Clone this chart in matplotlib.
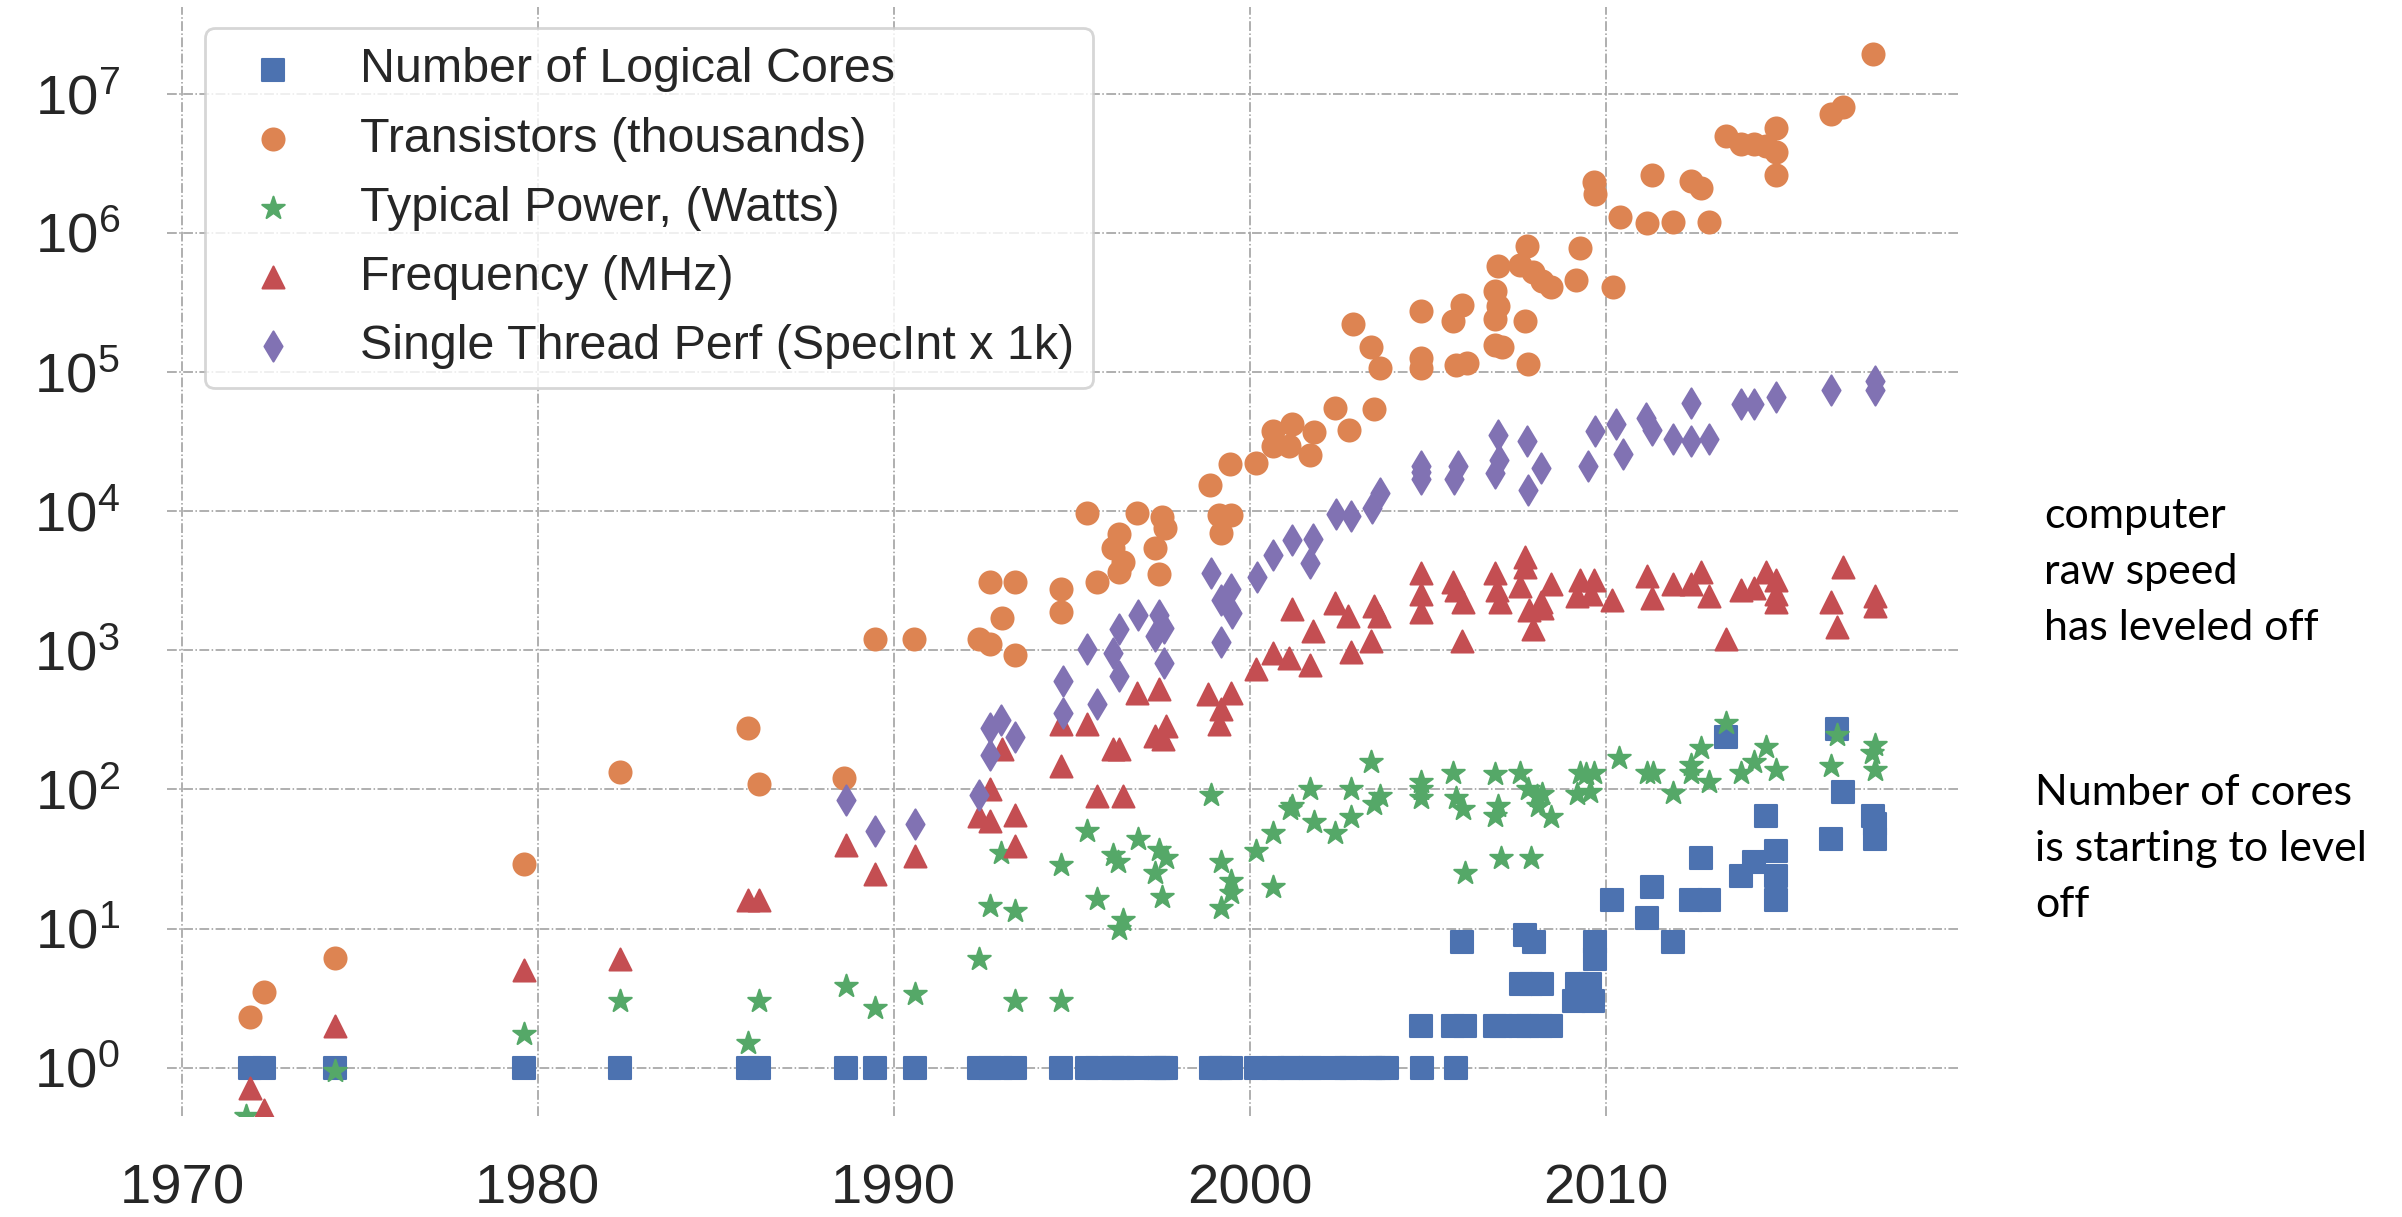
import numpy as np
import matplotlib.pyplot as plt
from matplotlib.ticker import NullLocator

plt.rcParams['font.family'] = ['Liberation Sans', 'DejaVu Sans']

# ---- data: (year, value) ----
cores = [(1971.9, 1), (1972.3, 1), (1974.3, 1), (1979.6, 1), (1982.3, 1), (1985.9, 1),
         (1986.2, 1), (1988.65, 1), (1989.46, 1), (1990.6, 1), (1992.4, 1), (1992.7, 1),
         (1993.0, 1), (1993.4, 1), (1994.7, 1), (1995.43, 1), (1995.7, 1), (1996.15, 1),
         (1996.34, 1), (1996.43, 1), (1996.87, 1), (1997.35, 1), (1997.44, 1), (1997.54, 1),
         (1997.65, 1), (1998.9, 1), (1999.13, 1), (1999.18, 1), (1999.48, 1), (2000.18, 1),
         (2000.66, 1), (2001.1, 1), (2001.19, 1), (2001.68, 1), (2001.77, 1), (2002.4, 1),
         (2002.7, 1), (2002.85, 1), (2003.4, 1), (2003.5, 1), (2003.66, 1), (2003.85, 1),
         (2004.84, 1), (2005.8, 1),
         (2004.8, 2), (2005.72, 2), (2006.05, 2), (2006.88, 2), (2007.06, 2), (2007.6, 2),
         (2007.83, 2), (2008.17, 2), (2008.46, 2),
         (2007.62, 4), (2007.9, 4), (2008.2, 4), (2009.2, 4), (2009.55, 4),
         (2009.1, 3), (2009.65, 3), (2009.7, 6),
         (2005.97, 8), (2007.98, 8), (2009.7, 8), (2011.9, 8), (2007.74, 9),
         (2010.19, 16), (2012.39, 16), (2012.9, 16), (2014.8, 16), (2011.16, 12),
         (2011.31, 20), (2012.69, 32), (2013.8, 24), (2014.8, 24), (2014.17, 30),
         (2013.39, 240), (2014.5, 64), (2017.5, 64), (2014.8, 36), (2016.32, 44),
         (2017.58, 44), (2016.5, 270), (2016.67, 96), (2017.58, 56)]

transistors = [(1971.9, 2.3), (1972.3, 3.5), (1974.3, 6.1), (1979.6, 29), (1982.3, 134),
               (1985.9, 275), (1986.2, 109), (1988.6, 121), (1989.48, 1200), (1990.58, 1200),
               (1992.4, 1200), (1992.7, 1115), (1993.03, 1700), (1992.7, 3100), (1993.4, 3100),
               (1993.4, 920), (1994.7, 2780), (1994.7, 1900), (1995.43, 9700), (1995.7, 3100),
               (1996.34, 6800), (1996.15, 5460), (1996.43, 4330), (1996.34, 3650),
               (1996.83, 9700), (1997.54, 9100), (1997.63, 7590), (1997.35, 5460),
               (1997.44, 3550), (1998.89, 15300), (1999.15, 9460), (1999.48, 9460),
               (1999.18, 6980), (1999.46, 21900), (2000.18, 22200), (2000.66, 37600),
               (2001.19, 42500), (2000.66, 29300), (2001.1, 29300), (2001.68, 25500),
               (2001.82, 37200), (2002.4, 55000), (2002.79, 38100), (2003.5, 54300),
               (2002.9, 220000), (2003.4, 151000), (2003.66, 106000), (2004.8, 273000),
               (2004.8, 126000), (2004.8, 106000), (2005.96, 305000), (2005.7, 231000),
               (2005.8, 113000), (2006.1, 116000), (2006.97, 581000), (2006.9, 380000),
               (2006.97, 300000), (2006.9, 242000), (2006.9, 157000), (2007.1, 151000),
               (2007.74, 231000), (2007.83, 115000), (2007.8, 800000), (2007.6, 585000),
               (2007.96, 520000), (2008.2, 454000), (2008.46, 410000), (2009.28, 778000),
               (2009.17, 456000), (2010.2, 408000), (2009.66, 2320000), (2009.71, 1900000),
               (2010.39, 1310000), (2011.16, 1170000), (2011.9, 1200000), (2012.9, 1200000),
               (2011.31, 2600000), (2012.39, 2370000), (2012.69, 2100000), (2013.39, 5000000),
               (2013.8, 4350000), (2014.17, 4350000), (2014.5, 4200000), (2014.8, 3800000),
               (2014.8, 5660000), (2014.8, 2600000), (2016.32, 7200000), (2016.67, 8000000),
               (2017.5, 19200000)]

power = [(1971.8, 0.45), (1974.3, 0.94), (1979.6, 1.74), (1982.3, 3.0), (1985.9, 1.5),
         (1986.2, 3.0), (1988.65, 3.9), (1989.46, 2.7), (1990.6, 3.4), (1992.4, 6.0),
         (1993.4, 3.0), (1994.7, 3.0), (1992.69, 14.5), (1993.4, 13.4), (1993.0, 35),
         (1994.7, 28.6), (1995.43, 50), (1995.7, 16.2), (1996.15, 33.6), (1996.3, 30.2),
         (1996.87, 44), (1996.43, 11.6), (1996.34, 10), (1997.44, 37), (1997.65, 32),
         (1997.35, 25), (1997.54, 17), (1998.9, 91), (1999.18, 30), (1999.48, 22),
         (1999.48, 18), (1999.18, 14.1), (2000.18, 36), (2000.66, 20), (2000.66, 49),
         (2001.13, 72), (2001.19, 76), (2001.68, 100), (2001.82, 58), (2002.4, 49),
         (2002.85, 100), (2002.85, 63), (2003.4, 157), (2003.5, 78), (2003.66, 90),
         (2004.8, 114), (2004.8, 100), (2004.8, 87), (2005.72, 131), (2005.8, 87),
         (2006.0, 72), (2006.05, 25), (2006.88, 130), (2006.97, 76), (2006.9, 64),
         (2007.06, 32), (2007.6, 132), (2007.83, 100), (2008.06, 90), (2008.2, 93),
         (2008.1, 76), (2008.46, 63), (2007.9, 32), (2009.28, 132), (2009.68, 132),
         (2009.46, 130), (2009.19, 93), (2009.57, 96), (2010.38, 167), (2011.16, 132),
         (2011.34, 132), (2011.88, 95), (2012.39, 150), (2012.69, 200), (2012.39, 132),
         (2012.9, 114), (2013.39, 299), (2013.8, 132), (2014.17, 157), (2014.5, 202),
         (2014.8, 138), (2016.32, 147), (2016.5, 248), (2017.58, 210), (2017.47, 182),
         (2017.58, 138)]

frequency = [(1971.9, 0.71), (1972.3, 0.5), (1974.3, 2.0), (1979.6, 5.0), (1982.3, 6.0),
             (1985.9, 16), (1986.2, 16), (1988.65, 40), (1989.46, 24.5), (1990.6, 33),
             (1992.4, 64), (1992.69, 59), (1992.69, 100), (1993.03, 194), (1993.4, 66),
             (1993.4, 39), (1994.7, 147), (1994.7, 293), (1995.43, 293), (1995.7, 90),
             (1996.15, 194), (1996.34, 194), (1996.43, 90), (1996.83, 495), (1997.35, 241),
             (1997.44, 524), (1997.56, 229), (1997.65, 285), (1998.84, 482), (1999.13, 293),
             (1999.18, 380), (1999.48, 495), (2000.18, 728), (2000.66, 960), (2001.1, 883),
             (2001.19, 1987), (2001.68, 790), (2001.77, 1375), (2002.4, 2200), (2002.75, 1750),
             (2002.85, 975), (2003.4, 1170), (2003.5, 2075), (2003.62, 1750), (2004.82, 3566),
             (2004.8, 2540), (2004.8, 1875), (2005.72, 3110), (2005.8, 2720), (2006.0, 2220),
             (2005.97, 1170), (2006.88, 3566), (2006.94, 2720), (2007.04, 2220),
             (2007.74, 4670), (2007.74, 3950), (2007.6, 2910), (2008.46, 3000),
             (2008.17, 2220), (2007.85, 1940), (2008.2, 2000), (2007.96, 1430),
             (2009.28, 3220), (2009.68, 3220), (2009.19, 2450), (2009.6, 2530),
             (2010.19, 2300), (2011.16, 3440), (2011.3, 2380), (2011.88, 3000),
             (2012.39, 3000), (2012.69, 3680), (2012.9, 2450), (2013.39, 1210),
             (2013.8, 2720), (2014.17, 2810), (2014.5, 3680), (2014.8, 3220), (2014.8, 2530),
             (2014.8, 2220), (2016.67, 3950), (2016.32, 2220), (2016.5, 1480),
             (2017.58, 2450), (2017.58, 2080)]

perf = [(1988.65, 84), (1989.46, 50), (1990.6, 56), (1992.4, 91), (1992.69, 178),
        (1992.69, 277), (1993.0, 318), (1993.4, 239), (1994.75, 355), (1994.75, 600),
        (1995.43, 1020), (1995.7, 413), (1996.34, 1413), (1996.15, 960), (1996.34, 659),
        (1996.87, 1807), (1997.44, 1807), (1997.6, 1453), (1997.35, 1265), (1997.6, 813),
        (1998.9, 3565), (1999.48, 2780), (1999.18, 2315), (1999.5, 1862), (1999.18, 1146),
        (2000.2, 3355), (2000.66, 4830), (2001.19, 6250), (2001.77, 6310), (2001.7, 4270),
        (2002.42, 9480), (2002.85, 9160), (2003.44, 10500), (2003.66, 13400),
        (2004.8, 21000), (2004.8, 19000), (2004.8, 16900), (2005.86, 21000),
        (2005.75, 16900), (2006.97, 35500), (2006.99, 23500), (2006.88, 18800),
        (2007.8, 31700), (2008.17, 20500), (2007.83, 14100), (2009.5, 21000),
        (2009.7, 37900), (2010.3, 42400), (2010.48, 25800), (2011.13, 46800),
        (2011.3, 38600), (2011.9, 33000), (2012.39, 60000), (2012.39, 31800),
        (2012.9, 33000), (2013.8, 59300), (2014.17, 59300), (2014.8, 65800),
        (2016.32, 74800), (2017.58, 85700), (2017.58, 74800)]

labels = ['Number of Logical Cores', 'Transistors (thousands)', 'Typical Power, (Watts)',
          'Frequency (MHz)', 'Single Thread Perf (SpecInt x 1k)']
x_ticks = [1970, 1980, 1990, 2000, 2010]
y_ticks = [1e0, 1e1, 1e2, 1e3, 1e4, 1e5, 1e6, 1e7]

# ---- figure ----
W, H = 2402, 1217
fig = plt.figure(figsize=(W / 100, H / 100), dpi=100)
ax = fig.add_axes([167 / W, 1 - 1116 / H, (1958 - 167) / W, (1116 - 7) / H])

styles = [('s', '#4C72B0', 240), ('o', '#DD8452', 250), ('*', '#55A868', 290),
          ('^', '#C44E52', 250), ('d', '#8172B3', 235)]
for data, label, (marker, color, size) in zip([cores, transistors, power, frequency, perf],
                                              labels, styles):
    yr, val = np.array(data).T
    sc = ax.scatter(yr, val, s=size, marker=marker, color=color, edgecolors=color,
                    linewidths=1.5, label=label, zorder=3)
    sc.set_joinstyle('round')

ax.set_yscale('log')
ax.set_xlim(1969.58, 2019.9)
ax.set_ylim(0.45, 4.2e7)
ax.set_xticks(x_ticks)
ax.set_yticks(y_ticks)
ax.yaxis.set_minor_locator(NullLocator())
ax.grid(True, color='#9a9a9a', linestyle='-.', linewidth=1.1)
ax.set_axisbelow(True)
for sp in ax.spines.values():
    sp.set_visible(False)
ax.tick_params(length=0, labelsize=40.5, pad=34, colors='#262626')

leg = ax.legend(loc='upper left', bbox_to_anchor=(0.0212, 0.981), borderaxespad=0,
                fontsize=34.8, framealpha=0.8, edgecolor='0.8', fancybox=True,
                scatterpoints=1, labelspacing=0.5, handletextpad=0.8, borderpad=0.4)
leg.get_frame().set_linewidth(2)
for t in leg.get_texts():
    t.set_color('#262626')

# ---- side notes ----
note_kw = dict(fontsize=31, family=['Lato', 'DejaVu Sans'], va='baseline', ha='left')
for txt, yb in [('computer', 528), ('raw speed', 584), ('has leveled off', 640)]:
    fig.text(2044 / W, 1 - yb / H, txt, **note_kw)
for txt, yb in [('Number of cores', 805), ('is starting to level', 861), ('off', 917)]:
    fig.text(2035 / W, 1 - yb / H, txt, **note_kw)

fig.savefig('out.png', dpi=100)
